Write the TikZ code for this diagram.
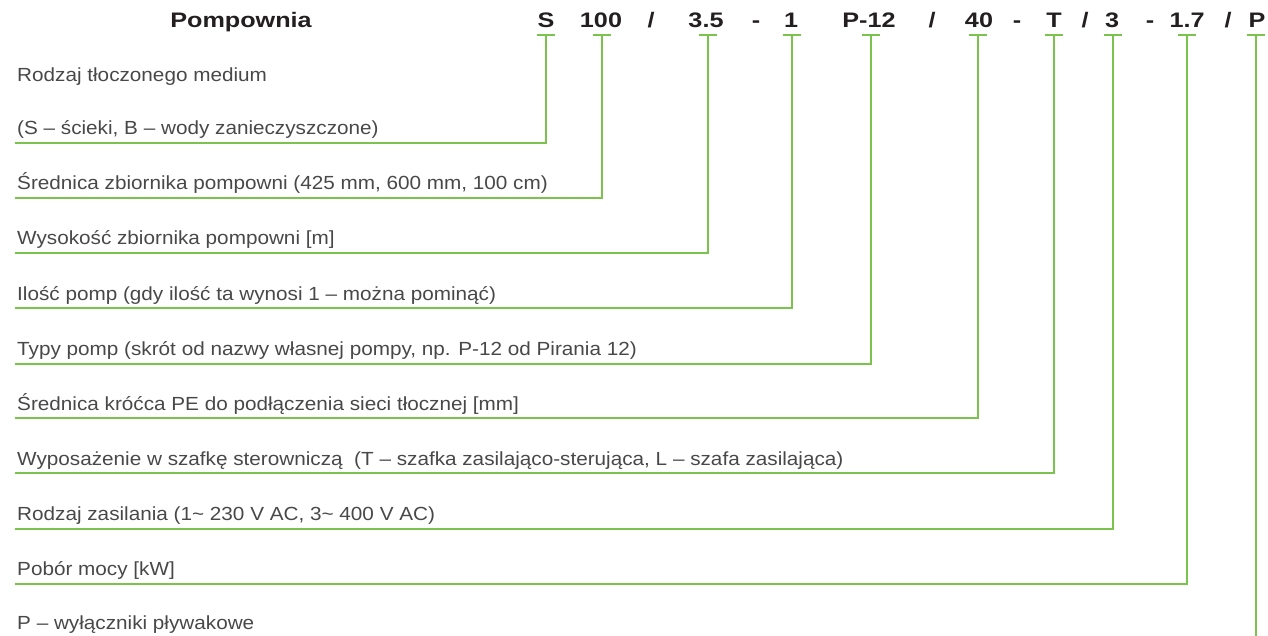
\documentclass[tikz,border=0pt]{standalone}
\usepackage{fontspec}
\setmainfont{Liberation Sans}[FakeStretch=1.09]
\newfontfamily\hdrfont{Liberation Sans}[FakeStretch=1.2]
\definecolor{lgreen}{RGB}{122,196,78}
\definecolor{txtgray}{RGB}{72,72,72}
\definecolor{hdrblack}{RGB}{35,31,32}
\begin{document}
\begin{tikzpicture}[x=1pt,y=-1pt,
  lbl/.style={anchor=base west,inner sep=0pt,text=txtgray,font=\fontsize{19}{22}\selectfont},
  code/.style={anchor=base,inner sep=0pt,text=hdrblack,font=\hdrfont\bfseries\fontsize{21}{24}\selectfont},
  gline/.style={draw=lgreen,line width=2.6pt},
  bar/.style={draw=lgreen,line width=2.6pt}]
\useasboundingbox (0,0) rectangle (1268,636);
% header
\node[code] (title) at (241,28) {Pompownia};
\node[code] (c1) at (546,28) {S};
\node[code] (c2) at (601,28) {100};
\node[code] (s1) at (651,28) {/};
\node[code] (c3) at (706,28) {3.5};
\node[code] (s2) at (756,28) {-};
\node[code] (c4) at (791,28) {1};
\node[code] (c5) at (869,28) {P-12};
\node[code] (s3) at (932,28) {/};
\node[code] (c6) at (979,28) {40};
\node[code] (s4) at (1017,28) {-};
\node[code] (c7) at (1054,28) {T};
\node[code] (s5) at (1085,28) {/};
\node[code] (c8) at (1112,28) {3};
\node[code] (s6) at (1150,28) {-};
\node[code] (c9) at (1187,28) {1.7};
\node[code] (s7) at (1228,28) {/};
\node[code] (c10) at (1257,28) {P};
% tick tops
\coordinate (t1) at (546,35);
\coordinate (t2) at (602,35);
\coordinate (t3) at (708,35);
\coordinate (t4) at (792,35);
\coordinate (t5) at (871,35);
\coordinate (t6) at (978,35);
\coordinate (t7) at (1054,35);
\coordinate (t8) at (1113,35);
\coordinate (t9) at (1187,35);
\coordinate (t10) at (1256,35);
% line left ends
\coordinate (e1) at (15,143);
\coordinate (e2) at (15,198);
\coordinate (e3) at (15,253);
\coordinate (e4) at (15,308);
\coordinate (e5) at (15,364);
\coordinate (e6) at (15,418);
\coordinate (e7) at (15,473);
\coordinate (e8) at (15,529);
\coordinate (e9) at (15,584);
\coordinate (e10) at (1256,636);
% labels
\node[lbl] (l0) at (17,82) {Rodzaj tłoczonego medium};
\node[lbl] (l1) at (17,135) {(S – ścieki, B – wody zanieczyszczone)};
\node[lbl] (l2) at (17,190) {Średnica zbiornika pompowni (425 mm, 600 mm, 100 cm)};
\node[lbl] (l3) at (17,245) {Wysokość zbiornika pompowni [m]};
\node[lbl] (l4) at (17,300) {Ilość pomp (gdy ilość ta wynosi 1 – można pominąć)};
\node[lbl] (l5) at (17,355) {Typy pomp (skrót od nazwy własnej pompy, np. P-12 od Pirania 12)};
\node[lbl] (l6) at (17,410) {Średnica króćca PE do podłączenia sieci tłocznej [mm]};
\node[lbl] (l7) at (17,465) {Wyposażenie w szafkę sterowniczą\ \ (T – szafka zasilająco-sterująca, L – szafa zasilająca)};
\node[lbl] (l8) at (17,520) {Rodzaj zasilania (1\textasciitilde{} 230 V AC, 3\textasciitilde{} 400 V AC)};
\node[lbl] (l9) at (17,575) {Pobór mocy [kW]};
\node[lbl] (l10) at (17,629) {P – wyłączniki pływakowe};
% connectors
\foreach \i in {1,...,9} {
  \draw[bar] ([xshift=-9pt]t\i) -- ([xshift=9pt]t\i);
  \draw[gline] (t\i) -- (t\i |- e\i) -- (e\i);
}
\draw[bar] ([xshift=-9pt]t10) -- ([xshift=9pt]t10);
\draw[gline] (t10) -- (e10);
\end{tikzpicture}
\end{document}
